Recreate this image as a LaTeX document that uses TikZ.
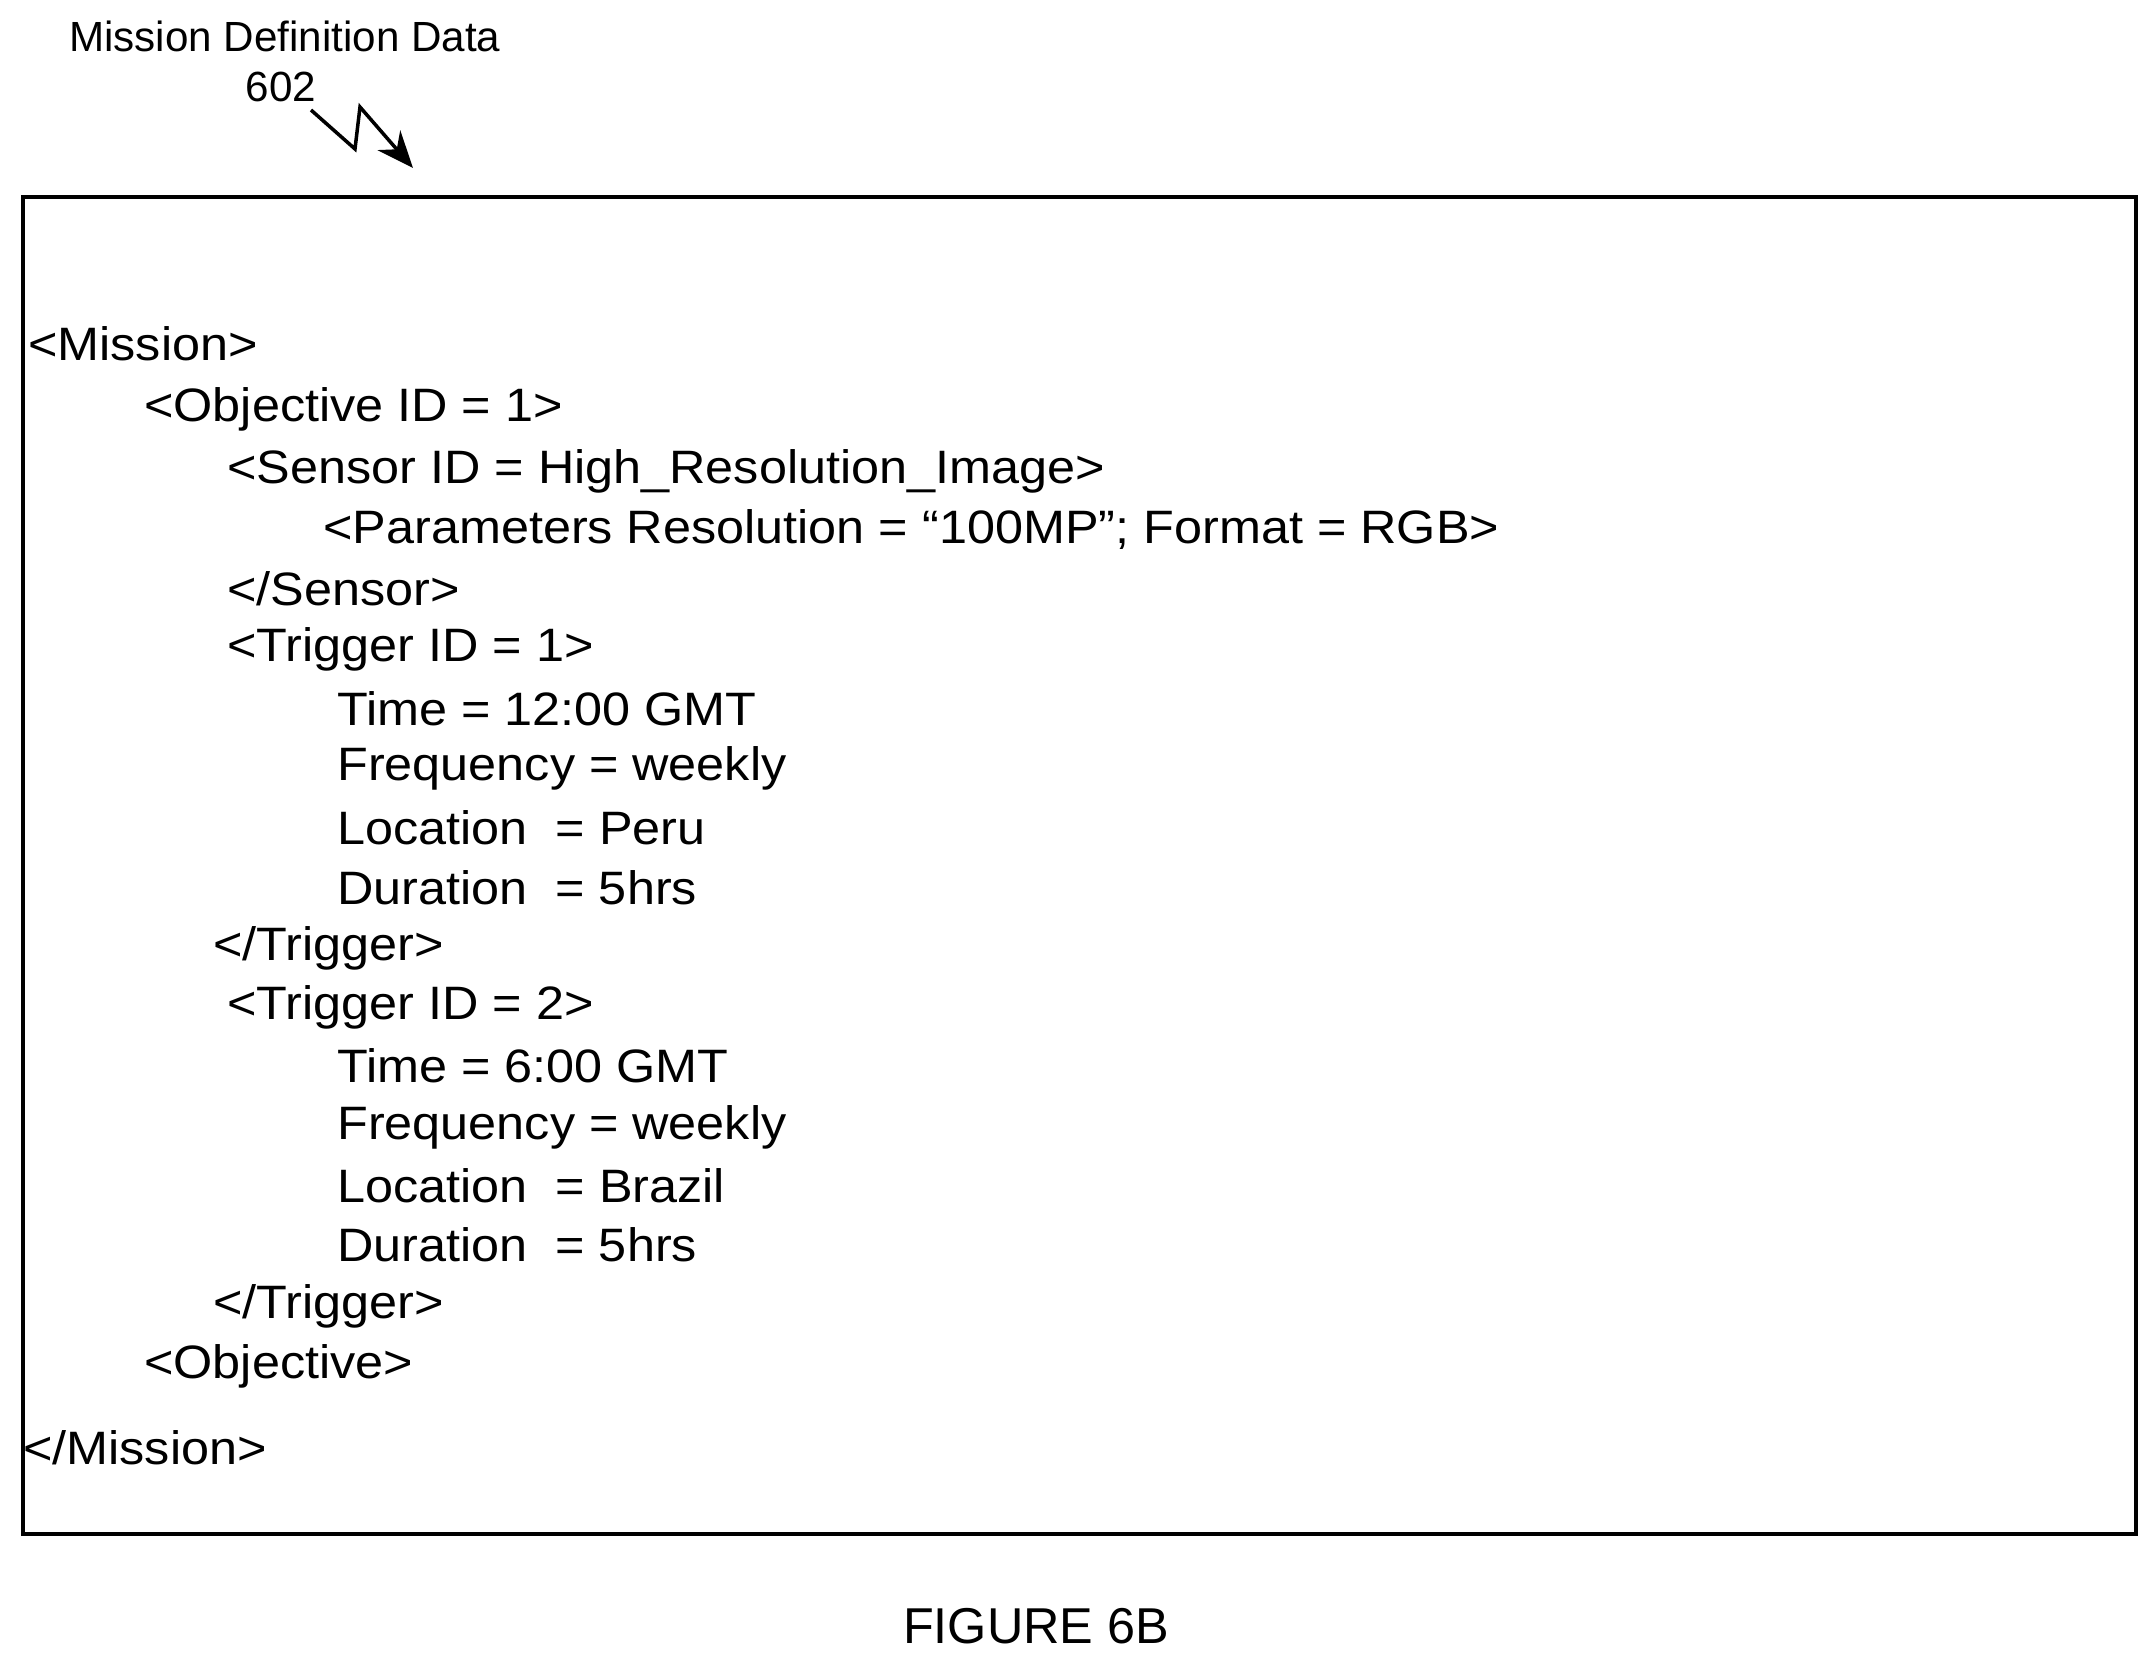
\documentclass[tikz,border=0pt]{standalone}
\usepackage{fontspec}
\setmainfont{Liberation Sans}
\newfontfamily\widefont[FakeStretch=1.075]{Liberation Sans}
\usetikzlibrary{arrows.meta}
\begin{document}
\begin{tikzpicture}[x=0.3mm,y=-0.3mm,
  txt/.style={anchor=west,inner sep=0pt,font=\widefont\fontsize{40}{44}\selectfont},
  lbl/.style={inner sep=0pt,font=\fontsize{36}{40}\selectfont}]
\useasboundingbox (0,0) rectangle (2155,1662);
\node[lbl,anchor=west] (title) at (69,36) {Mission Definition Data};
\node[lbl] (num) at (281,87) {602};
\coordinate (z0) at (311,110);
\coordinate (z3) at (413,168);
\draw[line width=3pt,-{Stealth[length=11mm,width=9mm]}] (z0) -- (355,149) -- (360,107) -- (z3);
\draw[line width=3pt] (23,197) rectangle (2136,1534);
\node[txt] (l1) at (28,344) {<Mission>};
\node[txt] (l2) at (144,409) {<Objective ID = 1>};
\node[txt] (l3) at (227,471) {<Sensor ID = High\_Resolution\_Image>};
\node[txt] (l4) at (323,530) {<Parameters Resolution = “100MP”; Format = RGB>};
\node[txt] (l5) at (227,589) {</Sensor>};
\node[txt] (l6) at (227,649) {<Trigger ID = 1>};
\node[txt] (l7) at (337,709) {Time = 12:00 GMT};
\node[txt] (l8) at (337,768) {Frequency = weekly};
\node[txt] (l9) at (337,828) {Location \ = Peru};
\node[txt] (l10) at (337,888) {Duration \ = 5hrs};
\node[txt] (l11) at (213,948) {</Trigger>};
\node[txt] (l12) at (227,1007) {<Trigger ID = 2>};
\node[txt] (l13) at (337,1066) {Time = 6:00 GMT};
\node[txt] (l14) at (337,1127) {Frequency = weekly};
\node[txt] (l15) at (337,1186) {Location \ = Brazil};
\node[txt] (l16) at (337,1245) {Duration \ = 5hrs};
\node[txt] (l17) at (213,1306) {</Trigger>};
\node[txt] (l18) at (144,1366) {<Objective>};
\node[txt] (l19) at (23,1448) {</Mission>};
\node[inner sep=0pt,font=\fontsize{43}{47}\selectfont] (fig) at (1036,1626) {FIGURE 6B};
\end{tikzpicture}
\end{document}
